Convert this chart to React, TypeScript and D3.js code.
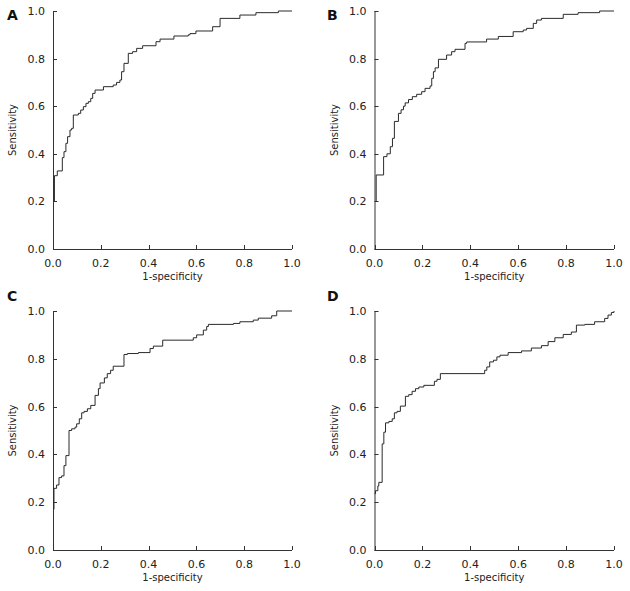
import React from "react";
import * as d3 from "d3";

// Panel A
const fprA = [0.006, 0.006, 0.018, 0.039, 0.046, 0.054, 0.061, 0.071, 0.078, 0.085, 0.106, 0.116, 0.127, 0.138, 0.148, 0.158, 0.166, 0.176, 0.211, 0.252, 0.266, 0.28, 0.287, 0.297, 0.315, 0.333, 0.35, 0.375, 0.431, 0.448, 0.506, 0.566, 0.573, 0.598, 0.668, 0.699, 0.782, 0.849, 0.943, 1.0];
const tprA = [0.2, 0.308, 0.328, 0.384, 0.409, 0.444, 0.472, 0.5, 0.507, 0.563, 0.57, 0.584, 0.598, 0.612, 0.619, 0.633, 0.654, 0.668, 0.682, 0.689, 0.7, 0.71, 0.745, 0.78, 0.822, 0.829, 0.843, 0.854, 0.871, 0.882, 0.895, 0.9, 0.905, 0.916, 0.934, 0.969, 0.983, 0.993, 1.0, 1.0];

// Panel B
const fprB = [0.007, 0.007, 0.038, 0.052, 0.066, 0.075, 0.083, 0.1, 0.111, 0.121, 0.128, 0.142, 0.158, 0.176, 0.197, 0.211, 0.232, 0.239, 0.246, 0.253, 0.267, 0.301, 0.322, 0.336, 0.378, 0.385, 0.468, 0.517, 0.579, 0.621, 0.635, 0.663, 0.677, 0.697, 0.788, 0.85, 0.94, 1.0];
const tprB = [0.2, 0.311, 0.388, 0.4, 0.43, 0.465, 0.536, 0.57, 0.585, 0.6, 0.614, 0.628, 0.64, 0.65, 0.661, 0.675, 0.685, 0.717, 0.745, 0.761, 0.797, 0.815, 0.829, 0.839, 0.864, 0.87, 0.882, 0.893, 0.913, 0.92, 0.927, 0.948, 0.962, 0.969, 0.986, 0.993, 1.0, 1.0];

// Panel C
const fprC = [0.004, 0.004, 0.015, 0.025, 0.036, 0.046, 0.054, 0.067, 0.078, 0.092, 0.099, 0.11, 0.12, 0.13, 0.144, 0.158, 0.176, 0.19, 0.197, 0.215, 0.227, 0.241, 0.252, 0.297, 0.311, 0.357, 0.406, 0.42, 0.459, 0.587, 0.601, 0.629, 0.643, 0.65, 0.755, 0.782, 0.838, 0.859, 0.915, 0.936, 1.0];
const tprC = [0.17, 0.258, 0.272, 0.303, 0.31, 0.353, 0.395, 0.5, 0.507, 0.514, 0.528, 0.549, 0.574, 0.58, 0.591, 0.605, 0.647, 0.675, 0.699, 0.72, 0.738, 0.752, 0.769, 0.818, 0.822, 0.826, 0.843, 0.853, 0.878, 0.888, 0.9, 0.92, 0.935, 0.944, 0.948, 0.955, 0.962, 0.97, 0.98, 1.0, 1.0];

// Panel D
const fprD = [0.0, 0.004, 0.014, 0.018, 0.032, 0.039, 0.046, 0.06, 0.074, 0.083, 0.094, 0.108, 0.129, 0.143, 0.157, 0.171, 0.185, 0.206, 0.25, 0.261, 0.275, 0.46, 0.469, 0.481, 0.497, 0.511, 0.524, 0.558, 0.614, 0.655, 0.697, 0.725, 0.753, 0.788, 0.822, 0.843, 0.878, 0.919, 0.961, 0.975, 0.989, 1.0];
const tprD = [0.236, 0.248, 0.268, 0.283, 0.444, 0.493, 0.532, 0.538, 0.549, 0.574, 0.58, 0.602, 0.643, 0.65, 0.664, 0.675, 0.682, 0.689, 0.706, 0.714, 0.738, 0.752, 0.766, 0.787, 0.794, 0.808, 0.815, 0.826, 0.833, 0.845, 0.855, 0.872, 0.888, 0.902, 0.912, 0.941, 0.944, 0.955, 0.969, 0.983, 0.994, 1.0];

const panelLabels = ["A", "B", "C", "D"];
const tickValues = [0, 0.2, 0.4, 0.6, 0.8, 1.0];
const xTitle = "1-specificity";
const yTitle = "Sensitivity";

const panels = [
  { label: panelLabels[0], fpr: fprA, tpr: tprA, x0: 53, x1: 292, y0: 249, y1: 11, lx: 7, ly: 20 },
  { label: panelLabels[1], fpr: fprB, tpr: tprB, x0: 374.5, x1: 614, y0: 249, y1: 11, lx: 327, ly: 20 },
  { label: panelLabels[2], fpr: fprC, tpr: tprC, x0: 53, x1: 292, y0: 550, y1: 311, lx: 7, ly: 301 },
  { label: panelLabels[3], fpr: fprD, tpr: tprD, x0: 374.5, x1: 614, y0: 550, y1: 311, lx: 327, ly: 301 },
];

const font = "'DejaVu Sans', Verdana, sans-serif";
const axisColor = "#333";
const textColor = "#222";

function Panel({ p }: { p: any }) {
  const x = d3.scaleLinear().domain([0, 1]).range([p.x0, p.x1]);
  const y = d3.scaleLinear().domain([0, 1]).range([p.y0, p.y1]);
  const pts: [number, number][] = p.fpr.map((f: number, i: number) => [f, p.tpr[i]]);
  const line = d3
    .line<[number, number]>()
    .x((d) => x(d[0]))
    .y((d) => y(d[1]))
    .curve(d3.curveStepAfter);
  const midX = (p.x0 + p.x1) / 2;
  const midY = (p.y0 + p.y1) / 2;
  return (
    <g>
      <text x={p.lx} y={p.ly} fontFamily={font} fontWeight="bold" fontSize={14} fill="#111">
        {p.label}
      </text>
      <line x1={x(0)} x2={x(1)} y1={y(0) + 0.5} y2={y(0) + 0.5} stroke={axisColor} strokeWidth={1} />
      <line x1={x(0) + 0.5} x2={x(0) + 0.5} y1={y(0)} y2={y(1)} stroke={axisColor} strokeWidth={1} />
      {tickValues.map((t) => (
        <g key={"x" + t}>
          <line x1={Math.round(x(t)) + 0.5} x2={Math.round(x(t)) + 0.5} y1={y(0)} y2={y(0) - 4} stroke={axisColor} />
          <text x={x(t)} y={y(0) + 18} textAnchor="middle" fontFamily={font} fontSize={11} fill={textColor}>
            {t.toFixed(1)}
          </text>
        </g>
      ))}
      {tickValues.map((t) => (
        <g key={"y" + t}>
          <line x1={x(0)} x2={x(0) + 4} y1={Math.round(y(t)) + 0.5} y2={Math.round(y(t)) + 0.5} stroke={axisColor} />
          <text x={x(0) - 8} y={y(t)} dy="0.36em" textAnchor="end" fontFamily={font} fontSize={11} fill={textColor}>
            {t.toFixed(1)}
          </text>
        </g>
      ))}
      <text x={midX} y={p.y0 + 31} textAnchor="middle" fontFamily={font} fontSize={10} fill={textColor}>
        {xTitle}
      </text>
      <text
        transform={`translate(${p.x0 - 37},${midY}) rotate(-90)`}
        textAnchor="middle"
        fontFamily={font}
        fontSize={10}
        fill={textColor}
      >
        {yTitle}
      </text>
      <path d={line(pts) || ""} fill="none" stroke="#2a2a2a" strokeWidth={1} />
    </g>
  );
}

export default function App() {
  return (
    <svg
      width={630}
      height={591}
      style={{ position: "absolute", left: 0, top: 0, background: "#fff" }}
    >
      <rect width={630} height={591} fill="#fff" />
      {panels.map((p) => (
        <Panel key={p.label} p={p} />
      ))}
    </svg>
  );
}
